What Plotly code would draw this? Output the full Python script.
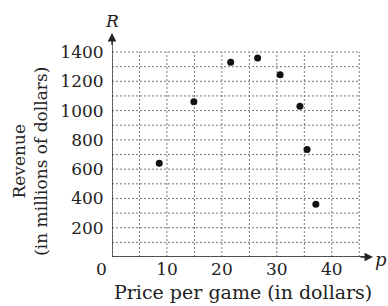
import plotly.graph_objects as go

# Data
price = [8.6, 14.9, 21.6, 26.5, 30.6, 34.2, 35.5, 37.1]
revenue = [640, 1060, 1330, 1360, 1245, 1030, 735, 360]

x_ticks = [10, 20, 30, 40]
y_ticks = [200, 400, 600, 800, 1000, 1200, 1400]
x_grid = [0, 5, 10, 15, 20, 25, 30, 35, 40, 45]
y_grid = [0, 100, 200, 300, 400, 500, 600, 700, 800, 900, 1000, 1100, 1200, 1300, 1400]

X_MAX, Y_MAX = 47.5, 1530
FONT = "DejaVu Serif"
INK = "#222"

fig = go.Figure()
fig.add_trace(go.Scatter(x=price, y=revenue, mode="markers",
                         marker=dict(color="#111", size=7), showlegend=False,
                         cliponaxis=False))

grid_style = dict(color="#777", width=1, dash="2px,2px")
shapes = []
for gx in x_grid:
    shapes.append(dict(type="line", xref="x", yref="y", x0=gx, x1=gx,
                       y0=0, y1=max(y_grid), line=grid_style, layer="below"))
for gy in y_grid:
    shapes.append(dict(type="line", xref="x", yref="y", x0=0, x1=max(x_grid),
                       y0=gy, y1=gy, line=grid_style, layer="below"))
# solid axes
shapes.append(dict(type="line", xref="x", yref="y", x0=0, x1=X_MAX - 1, y0=0, y1=0,
                   line=dict(color=INK, width=1.3)))
shapes.append(dict(type="line", xref="x", yref="y", x0=0, x1=0, y0=0, y1=Y_MAX - 30,
                   line=dict(color=INK, width=1.3)))

annotations = [
    # arrowheads
    dict(x=X_MAX, y=0, ax=-14, ay=0, xref="x", yref="y",
         showarrow=True, arrowhead=2, arrowsize=1.3, arrowwidth=1.3,
         arrowcolor=INK, text=" ", font=dict(size=1)),
    dict(x=0, y=Y_MAX, ax=0, ay=14, xref="x", yref="y",
         showarrow=True, arrowhead=2, arrowsize=1.3, arrowwidth=1.3,
         arrowcolor=INK, text=" ", font=dict(size=1)),
    dict(x=0, y=0, xref="x", yref="y", text="0", showarrow=False,
         xanchor="right", yanchor="top", xshift=-3, yshift=0,
         font=dict(family=FONT, size=17, color=INK)),
    dict(x=0, y=1, xref="paper", yref="paper", text="<i>R</i>", showarrow=False,
         xanchor="center", yanchor="bottom", yshift=0,
         font=dict(family=FONT, size=17, color=INK)),
    dict(x=1, y=0, xref="paper", yref="y", text="<i>p</i>", showarrow=False,
         xanchor="left", yanchor="middle", xshift=0, yshift=-2,
         font=dict(family=FONT, size=18, color=INK)),
    dict(x=0, y=0, xref="paper", yref="paper", text="Price per game (in dollars)",
         showarrow=False, xanchor="center", yanchor="middle", xshift=131, yshift=-35,
         font=dict(family=FONT, size=19, color=INK)),
    dict(x=0, y=650, xref="paper", yref="y", text="Revenue<br>(in millions of dollars)",
         showarrow=False, textangle=-90, xanchor="center", yanchor="middle",
         xshift=-82, font=dict(family=FONT, size=17, color=INK)),
]

fig.update_layout(
    width=388, height=306,
    margin=dict(l=112, r=15, t=33, b=49),
    paper_bgcolor="white", plot_bgcolor="white",
    shapes=shapes, annotations=annotations,
    xaxis=dict(range=[0, X_MAX], tickvals=x_ticks, showgrid=False, zeroline=False,
               showline=False, ticks="", automargin=False,
               tickfont=dict(family=FONT, size=17, color=INK)),
    yaxis=dict(range=[0, Y_MAX], tickvals=y_ticks, showgrid=False, zeroline=False,
               showline=False, ticks="outside", ticklen=4, tickcolor="rgba(0,0,0,0)",
               automargin=False,
               tickfont=dict(family=FONT, size=17, color=INK)),
)

fig.write_html("out.html",
               config={"displayModeBar": False},
               post_script="document.body.style.margin='0';"
                           "document.body.style.overflow='hidden';")
